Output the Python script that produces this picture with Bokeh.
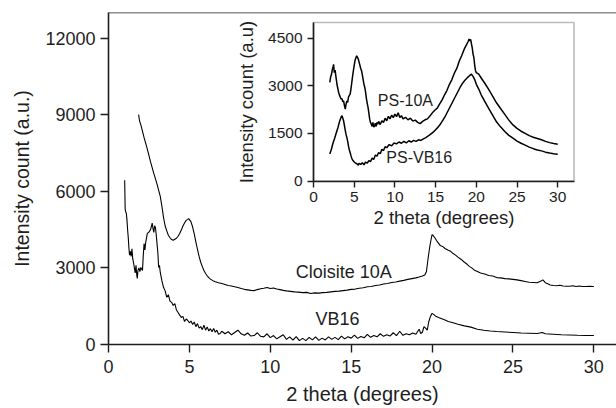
from bokeh.plotting import figure
from bokeh.models import (Range1d, LinearAxis, FixedTicker, Span, BoxAnnotation, Label)
from bokeh.embed import file_html
from bokeh.resources import INLINE

# ---------------- data: main chart ----------------
cloisite_x = [1.86, 1.92, 2.0, 2.2, 2.4, 2.6, 2.8, 3.0, 3.2, 3.3, 3.4, 3.5, 3.6, 3.7, 3.8, 3.9, 4.0,
              4.1, 4.2, 4.3, 4.4, 4.5, 4.6, 4.7, 4.8, 4.9, 4.95, 5.0, 5.1, 5.2, 5.3, 5.4, 5.5, 5.6, 5.7,
              5.8, 5.9, 6.0, 6.1, 6.2, 6.3, 6.45, 6.6, 6.8, 7.0, 7.2, 7.4, 7.6, 7.8, 8.0, 8.2, 8.4, 8.6,
              8.8, 9.0, 9.2, 9.4, 9.6, 9.8, 10.0, 10.2, 10.4, 10.6, 10.8, 11.0, 11.25, 11.5, 11.75, 12.0,
              12.25, 12.5, 12.75, 13.0, 13.25, 13.5, 13.75, 14.0, 14.25, 14.5, 14.75, 15.0, 15.25, 15.5,
              15.75, 16.0, 16.25, 16.5, 16.75, 17.0, 17.25, 17.5, 17.75, 18.0, 18.25, 18.5, 18.75, 19.0,
              19.2, 19.4, 19.55, 19.65, 19.75, 19.85, 19.95, 20.0, 20.05, 20.15, 20.3, 20.5, 20.65, 20.8,
              21.0, 21.15, 21.3, 21.45, 21.6, 21.8, 22.0, 22.15, 22.3, 22.45, 22.6, 22.8, 23.0, 23.25,
              23.5, 23.75, 24.0, 24.25, 24.5, 24.75, 25.0, 25.25, 25.5, 25.75, 26.0, 26.25, 26.5, 26.7,
              26.85, 27.0, 27.15, 27.3, 27.5, 27.7, 27.9, 28.1, 28.3, 28.5, 28.7, 28.9, 29.1, 29.3, 29.5,
              29.7, 30.0]
cloisite_y = [9000, 8750, 8600, 8100, 7650, 7150, 6700, 6280, 5800, 5420, 4980, 4650, 4450, 4280, 4180, 4110, 4080,
              4120, 4160, 4240, 4350, 4480, 4640, 4760, 4860, 4900, 4930, 4890, 4800, 4600, 4330, 4020, 3720, 3450, 3220,
              3050, 2900, 2780, 2690, 2620, 2560, 2500, 2460, 2420, 2390, 2350, 2310, 2290, 2260, 2230, 2190, 2160, 2140,
              2120, 2110, 2150, 2180, 2200, 2230, 2190, 2210, 2170, 2150, 2120, 2100, 2080, 2060, 2050, 2030,
              2040, 2000, 2020, 2010, 2030, 2040, 2060, 2080, 2090, 2110, 2130, 2160, 2170, 2200,
              2220, 2260, 2270, 2310, 2330, 2370, 2390, 2430, 2450, 2480, 2510, 2550, 2580, 2610,
              2640, 2680, 2720, 2850, 3350, 3800, 4150, 4300, 4280, 4200, 4050, 3880, 3840, 3760,
              3690, 3650, 3560, 3500, 3420, 3330, 3220, 3150, 3060, 3000, 2920, 2860, 2800, 2760,
              2700, 2680, 2620, 2610, 2580, 2570, 2550, 2530, 2500, 2470, 2440, 2430, 2420, 2480,
              2530, 2420, 2380, 2330, 2310, 2300, 2320, 2290, 2280, 2280, 2300, 2270, 2290, 2270, 2270,
              2280, 2270]

vb16_x = [1.0, 1.03, 1.06, 1.1, 1.14, 1.18, 1.22, 1.26, 1.3, 1.35, 1.4, 1.45, 1.5, 1.55, 1.6, 1.65, 1.7,
          1.75, 1.78, 1.82, 1.88, 1.94, 2.0, 2.05, 2.1, 2.15, 2.2, 2.25, 2.3, 2.4, 2.5, 2.6, 2.7, 2.75,
          2.8, 2.85, 2.9, 2.95, 3.0, 3.05, 3.1, 3.15, 3.2, 3.3, 3.4, 3.5, 3.6, 3.7, 3.8, 3.9, 4.0, 4.1,
          4.2, 4.3, 4.4, 4.5, 4.6, 4.7, 4.8, 4.9, 5.0, 5.1, 5.2, 5.3, 5.4, 5.5, 5.6, 5.7, 5.8, 5.9, 6.0,
          6.1, 6.2, 6.3, 6.4, 6.5, 6.6, 6.7, 6.8, 6.9, 7.0, 7.2, 7.4, 7.6, 7.8, 8.0, 8.2, 8.4, 8.6, 8.8,
          9.0, 9.2, 9.4, 9.6, 9.8, 10.0, 10.2, 10.4, 10.6, 10.8, 11.0, 11.2, 11.4, 11.6, 11.8, 12.0,
          12.2, 12.4, 12.6, 12.8, 13.0, 13.2, 13.4, 13.6, 13.8, 14.0, 14.2, 14.4, 14.6, 14.8, 15.0,
          15.2, 15.4, 15.6, 15.8, 16.0, 16.2, 16.4, 16.6, 16.8, 17.0, 17.2, 17.4, 17.6, 17.8, 18.0,
          18.2, 18.4, 18.6, 18.8, 19.0, 19.2, 19.3, 19.4, 19.5, 19.6, 19.7, 19.8, 19.9, 20.0, 20.1,
          20.2, 20.4, 20.6, 20.8, 21.0, 21.3, 21.6, 22.0, 22.4, 22.8, 23.2, 23.6, 24.0, 24.5, 25.0,
          25.5, 26.0, 26.5, 26.8, 27.0, 27.5, 28.0, 28.5, 29.0, 29.5, 30.0]
vb16_y = [6430, 5300, 5200, 5150, 4900, 4500, 4200, 3800, 3500, 3650, 3450, 3750, 3350, 3200, 3000, 2800, 3100,
          2700, 2590, 2900, 3000, 2850, 3020, 2950, 2900, 3500, 3950, 3700, 4000, 4350, 4400, 4500, 4750, 4550,
          4390, 4650, 4590, 4300, 3950, 3600, 3020, 3100, 2820, 2500, 2240, 2100, 1850, 1950, 1700, 1650, 1530, 1600,
          1350, 1250, 1150, 1060, 1100, 900, 1000, 940, 850, 920, 780, 880, 700, 820, 640, 700, 580, 760, 560,
          690, 530, 620, 500, 630, 480, 560, 400, 430, 520, 420, 500, 380, 470, 560, 420, 360, 450, 330,
          350, 460, 320, 300, 420, 270, 350, 220, 300, 380, 200, 300, 170, 310, 150, 240,
          150, 280, 180, 300, 160, 250, 180, 300, 200, 280, 190, 330, 220, 300, 250,
          370, 240, 310, 260, 400, 280, 350, 300, 420, 320, 380, 330, 460, 350, 520,
          360, 420, 380, 450, 400, 600, 430, 480, 700, 640, 560, 900, 1100, 1220, 1180,
          1120, 1060, 1010, 960, 900, 850, 790, 730, 680, 600, 560, 530, 510, 490, 470,
          450, 440, 430, 470, 420, 400, 380, 370, 360, 355, 350]

main_x_ticks = [0, 5, 10, 15, 20, 25, 30]
main_y_ticks = [0, 3000, 6000, 9000, 12000]

# ---------------- data: inset ----------------
ps10a_x = [2.0, 2.1, 2.2, 2.3, 2.4, 2.47, 2.55, 2.65, 2.75, 2.88, 3.0, 3.1, 3.2, 3.3, 3.4, 3.5, 3.6, 3.7,
           3.8, 3.9, 4.0, 4.1, 4.2, 4.3, 4.4, 4.5, 4.6, 4.7, 4.8, 4.9, 5.0, 5.1, 5.2, 5.3, 5.4, 5.5, 5.6,
           5.7, 5.8, 5.9, 6.0, 6.1, 6.2, 6.3, 6.4, 6.5, 6.6, 6.7, 6.8, 6.9, 7.0, 7.1, 7.2, 7.3, 7.4, 7.5,
           7.6, 7.7, 7.8, 7.9, 8.0, 8.2, 8.4, 8.6, 8.8, 9.0, 9.2, 9.4, 9.6, 9.8, 10.0, 10.2, 10.4, 10.6,
           10.8, 11.0, 11.3, 11.6, 11.9, 12.2, 12.5, 12.8, 13.1, 13.4, 13.7, 14.0, 14.3, 14.6, 14.9,
           15.2, 15.5, 15.8, 16.1, 16.4, 16.7, 17.0, 17.3, 17.6, 17.9, 18.2, 18.5, 18.8, 19.0, 19.1,
           19.2, 19.3, 19.4, 19.5, 19.6, 19.7, 19.8, 19.9, 20.0, 20.3, 20.6, 21.0, 21.5, 22.0, 22.5,
           23.0, 23.5, 24.0, 24.5, 25.0, 25.5, 26.0, 26.5, 27.0, 27.5, 28.0, 28.5, 29.0, 29.5, 30.0]
ps10a_y = [3110, 3280, 3350, 3500, 3600, 3680, 3420, 3500, 3300, 3060, 2900, 2780, 2700, 2640, 2580, 2600, 2500, 2530,
           2380, 2270, 2420, 2530, 2480, 2650, 2700, 2740, 2900, 3100, 3300, 3480, 3650, 3800, 3880, 3950, 3900, 3850, 3750,
           3650, 3550, 3480, 3350, 3200, 3050, 2950, 2800, 2600, 2450, 2320, 2150, 1950, 1850, 1790, 1720, 1850, 1700, 1740,
           1820, 1720, 1850, 1790, 1880, 1780, 1900, 1850, 1980, 1900, 2040, 1960, 2080, 2000, 2110, 2030, 2150, 2000,
           2060, 1960, 2010, 1930, 1980, 1890, 1920, 1850, 1810, 1880, 1930, 1960, 2050, 2150, 2230,
           2300, 2430, 2560, 2720, 2860, 3050, 3200, 3400, 3550, 3780, 3950, 4150, 4300, 4400, 4480,
           4420, 4470, 4330, 4200, 4000, 3900, 3650, 3480, 3420, 3370, 3250, 3100, 2900, 2680, 2460,
           2280, 2100, 1920, 1770, 1660, 1570, 1500, 1430, 1380, 1340, 1300, 1250, 1210, 1180, 1160]

psvb16_x = [2.0, 2.2, 2.4, 2.6, 2.8, 3.0, 3.2, 3.3, 3.4, 3.5, 3.6, 3.7, 3.8, 3.9, 4.0, 4.1, 4.2, 4.3, 4.4,
            4.5, 4.6, 4.7, 4.8, 4.9, 5.0, 5.2, 5.4, 5.5, 5.6, 5.8, 6.0, 6.2, 6.4, 6.6, 6.8, 7.0, 7.2, 7.4,
            7.6, 7.8, 8.0, 8.2, 8.4, 8.6, 8.8, 9.0, 9.3, 9.6, 9.9, 10.2, 10.5, 10.8, 11.1, 11.4, 11.7,
            12.0, 12.3, 12.6, 12.9, 13.2, 13.5, 13.8, 14.1, 14.4, 14.7, 15.0, 15.3, 15.6, 15.9, 16.2,
            16.5, 16.8, 17.1, 17.4, 17.7, 18.0, 18.3, 18.6, 18.9, 19.2, 19.4, 19.6, 19.8, 20.0, 20.3,
            20.6, 21.0, 21.5, 22.0, 22.5, 23.0, 23.5, 24.0, 24.5, 25.0, 25.5, 26.0, 26.5, 27.0, 27.5,
            28.0, 28.5, 29.0, 29.5, 30.0]
psvb16_y = [850, 1000, 1200, 1350, 1520, 1680, 1880, 1950, 2020, 2060, 1980, 1900, 1750, 1600, 1470, 1370, 1250, 1100, 980,
            900, 800, 720, 660, 630, 600, 560, 530, 500, 560, 520, 580, 510, 600, 560, 640, 610, 720, 680,
            820, 780, 900, 860, 1000, 960, 1080, 1050, 1150, 1110, 1200, 1170, 1230, 1190, 1250, 1200, 1270,
            1230, 1280, 1250, 1300, 1280, 1330, 1370, 1420, 1480, 1540, 1620, 1700, 1800, 1920, 2050,
            2200, 2350, 2500, 2650, 2800, 2950, 3080, 3180, 3260, 3330, 3370, 3300, 3200, 3050, 2900,
            2720, 2530, 2300, 2080, 1860, 1700, 1560, 1440, 1350, 1260, 1190, 1130, 1070, 1020, 980,
            950, 910, 880, 860, 843]

inset_x_ticks = [0, 5, 10, 15, 20, 25, 30]
inset_y_ticks = [0, 1500, 3000, 4500]

# ---------------- layout constants ----------------
W, H = 616, 408
FL, FR, FT, FB = 108, 616, 12, 344          # main frame in pixels
X_END, Y_END = 31.4, 13000
IN_L, IN_R, IN_T, IN_B = 313, 573.5, 22, 180.5   # inset frame in pixels
IX_END, IY_END = 32, 5000

sx = (IN_R - IN_L) / IX_END
sy = (IN_B - IN_T) / IY_END
ix_range = Range1d(-(IN_L - FL) / sx, IX_END + (FR - IN_R) / sx)
iy_range = Range1d(-(FB - IN_B) / sy, IY_END + (IN_T - FT) / sy)

INK = "#1e1e1e"
FONT = "Liberation Sans"

p = figure(width=W, height=H, x_range=Range1d(0, X_END), y_range=Range1d(0, Y_END),
           output_backend="svg", toolbar_location=None,
           min_border_left=FL, min_border_right=W - FR, min_border_top=FT, min_border_bottom=H - FB)
p.extra_x_ranges = {"ix": ix_range}
p.extra_y_ranges = {"iy": iy_range}
p.outline_line_color = None
p.grid.visible = False
p.background_fill_color = "white"
p.border_fill_color = "white"

def style_axis(ax, tick_size, label_size, tick_out):
    ax.axis_line_color = INK
    ax.axis_line_width = 1.6
    ax.major_tick_line_color = INK
    ax.major_tick_line_width = 1.4
    ax.major_tick_out = tick_out
    ax.major_tick_in = 0
    ax.minor_tick_line_color = None
    ax.major_label_text_font = FONT
    ax.major_label_text_font_size = tick_size
    ax.major_label_text_color = INK
    ax.axis_label_text_font = FONT
    ax.axis_label_text_font_size = label_size
    ax.axis_label_text_color = INK
    ax.axis_label_text_font_style = "normal"

# main axes
p.xaxis.ticker = FixedTicker(ticks=main_x_ticks)
p.yaxis.ticker = FixedTicker(ticks=main_y_ticks)
p.xaxis.axis_label = "2 theta (degrees)"
p.yaxis.axis_label = "Intensity count (a.u.)"
style_axis(p.xaxis[0], "18px", "20px", 8)
style_axis(p.yaxis[0], "18px", "19.5px", 8)
p.xaxis.major_label_standoff = 7
p.yaxis.major_label_standoff = 5
p.xaxis.axis_label_standoff = 7
p.yaxis.axis_label_standoff = 9

p.add_layout(Span(location=Y_END, dimension="width", line_color=INK, line_width=1.6))

# main curves
p.line(cloisite_x, cloisite_y, line_color="black", line_width=1.1)
p.line(vb16_x, vb16_y, line_color="black", line_width=1.1)

p.add_layout(Label(x=11.57, y=2824, text="Cloisite 10A", text_font=FONT, text_font_size="18px",
                   text_color=INK, text_baseline="middle", text_align="left"))
p.add_layout(Label(x=12.8, y=980, text="VB16", text_font=FONT, text_font_size="18px",
                   text_color=INK, text_baseline="middle", text_align="left"))

# inset axes
ax_il = LinearAxis(x_range_name="ix", y_range_name="iy", fixed_location=0, bounds=(0, IY_END),
                   ticker=FixedTicker(ticks=inset_y_ticks), axis_label="Intensity count (a.u)")
style_axis(ax_il, "15.5px", "18.5px", 6)
ax_il.major_label_standoff = 5
ax_il.axis_label_standoff = 8
p.add_layout(ax_il, "left")

ax_ib = LinearAxis(x_range_name="ix", y_range_name="iy", fixed_location=0, bounds=(0, IX_END),
                   ticker=FixedTicker(ticks=inset_x_ticks), axis_label="2 theta (degrees)")
style_axis(ax_ib, "15.5px", "18.5px", 6)
ax_ib.major_label_standoff = 5
ax_ib.axis_label_standoff = 1
p.add_layout(ax_ib, "below")

p.add_layout(BoxAnnotation(left=0, right=IX_END, bottom=0, top=IY_END, x_range_name="ix", y_range_name="iy",
                           fill_color=None, line_color=INK, line_width=1.6))

p.line(ps10a_x, ps10a_y, x_range_name="ix", y_range_name="iy", line_color="black", line_width=1.5)
p.line(psvb16_x, psvb16_y, x_range_name="ix", y_range_name="iy", line_color="black", line_width=1.5)

p.add_layout(Label(x=7.9, y=2530, x_range_name="ix", y_range_name="iy", text="PS-10A", text_font=FONT,
                   text_font_size="16px", text_color=INK, text_baseline="middle"))
p.add_layout(Label(x=8.95, y=727, x_range_name="ix", y_range_name="iy", text="PS-VB16", text_font=FONT,
                   text_font_size="16px", text_color=INK, text_baseline="middle"))

open("out.html", "w").write(file_html(p, INLINE))
